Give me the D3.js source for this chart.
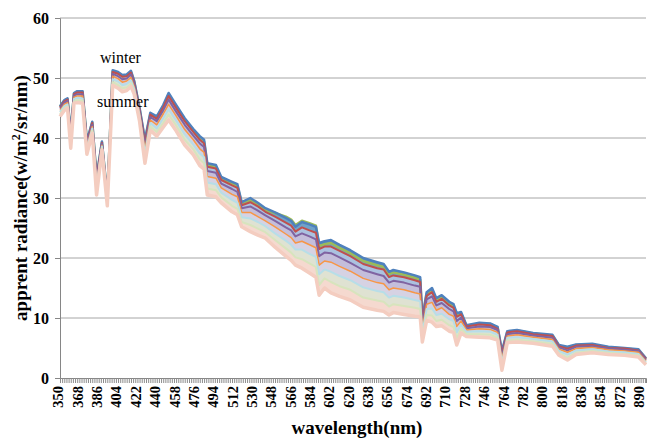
<!DOCTYPE html>
<html>
<head>
<meta charset="utf-8">
<script src="https://cdn.jsdelivr.net/npm/d3@7"></script>
<style>
  body { margin: 0; background: #fff; }
  svg { display: block; font-family: "Liberation Serif", "Times New Roman", serif; }
</style>
</head>
<body>
<script>
const wavelengths = [350, 354, 357, 360, 363, 366, 371, 375, 380, 384, 389, 394, 399, 404, 408, 412, 416, 419, 424, 429,
  434, 440, 446, 451, 458, 466, 474, 480, 484, 487, 495, 500, 510, 515, 519, 527, 534, 541, 550, 560,
  565, 569, 575, 582, 588, 591, 596, 602, 610, 620, 632, 645, 651, 656, 660, 670, 680, 685, 687, 691,
  696, 700, 705, 712, 716, 719, 723, 728, 740, 750, 757, 761, 766, 775, 790, 808, 814, 822, 830, 845,
  860, 875, 888, 895];

// winter (top)
const ser1 = [45.3, 46.3, 46.6, 40.8, 47.5, 47.8, 47.8, 39.5, 42.7, 33.5, 39.4, 30.2, 51.3, 51.0, 50.5, 50.6, 51.2, 49.5, 45.0, 39.7,
  44.2, 43.6, 45.5, 47.5, 45.5, 43.3, 41.5, 40.3, 39.7, 35.8, 35.5, 33.5, 32.7, 32.3, 29.3, 30.0, 29.2, 28.3, 27.6, 26.7,
  26.2, 25.2, 26.0, 25.6, 25.2, 22.5, 22.8, 23.0, 22.2, 21.3, 20.0, 19.3, 19.0, 17.7, 18.0, 17.6, 17.1, 16.8, 10.0, 14.3,
  15.0, 13.3, 13.8, 12.7, 12.3, 10.8, 11.0, 8.8, 9.2, 9.1, 8.5, 4.5, 7.8, 8.0, 7.5, 7.2, 5.5, 5.2, 5.6, 5.7,
  5.2, 5.0, 4.8, 3.3];
const ser2 = [45.2, 46.2, 46.5, 40.7, 47.4, 47.7, 47.7, 39.4, 42.6, 33.3, 39.3, 30.1, 51.1, 50.8, 50.3, 50.4, 51.0, 49.4, 44.9, 39.5,
  44.0, 43.4, 45.3, 47.2, 45.2, 43.0, 41.2, 40.0, 39.4, 35.5, 35.2, 33.2, 32.4, 32.0, 29.1, 29.7, 28.9, 28.0, 27.5, 26.9,
  26.4, 25.5, 26.2, 25.8, 25.4, 22.0, 22.3, 22.5, 21.7, 20.8, 19.5, 18.8, 18.5, 17.3, 17.6, 17.2, 16.7, 16.4, 9.8, 14.0,
  14.7, 13.0, 13.5, 12.4, 12.0, 10.5, 10.8, 8.7, 9.1, 9.0, 8.4, 4.3, 7.7, 7.9, 7.4, 7.1, 5.4, 5.1, 5.5, 5.6,
  5.1, 4.9, 4.7, 3.2];
const ser3 = [45.1, 46.1, 46.4, 40.5, 47.3, 47.6, 47.6, 39.2, 42.5, 33.1, 39.2, 30.0, 51.0, 50.7, 50.2, 50.3, 50.9, 49.2, 44.7, 39.2,
  43.9, 43.2, 45.1, 47.0, 45.0, 42.8, 41.0, 39.7, 39.1, 35.2, 34.9, 33.0, 32.1, 31.7, 28.8, 29.3, 28.6, 27.7, 26.9, 25.9,
  25.4, 24.4, 25.1, 24.6, 24.2, 21.5, 21.9, 21.9, 21.2, 20.3, 19.0, 18.3, 18.1, 16.8, 17.1, 16.8, 16.3, 16.0, 9.5, 13.7,
  14.3, 12.7, 13.2, 12.1, 11.7, 10.2, 10.6, 8.6, 8.9, 8.8, 8.2, 4.1, 7.6, 7.8, 7.3, 7.0, 5.3, 4.9, 5.4, 5.5,
  5.0, 4.9, 4.6, 3.2];
const ser4 = [44.9, 45.9, 46.2, 40.2, 47.1, 47.3, 47.3, 39.0, 42.2, 32.8, 39.1, 29.8, 50.7, 50.3, 49.8, 49.9, 50.6, 49.0, 44.5, 38.7,
  43.5, 42.8, 44.6, 46.4, 44.4, 42.2, 40.4, 39.1, 38.5, 34.5, 34.2, 32.4, 31.5, 31.0, 28.3, 28.6, 27.9, 27.1, 26.2, 25.1,
  24.6, 23.6, 24.1, 23.6, 23.1, 20.3, 20.9, 20.8, 20.1, 19.2, 18.0, 17.3, 17.0, 15.9, 16.2, 15.9, 15.4, 15.2, 9.0, 13.1,
  13.6, 12.1, 12.5, 11.5, 11.1, 9.5, 10.1, 8.3, 8.6, 8.5, 8.0, 3.7, 7.3, 7.5, 7.1, 6.7, 5.1, 4.6, 5.2, 5.3,
  4.9, 4.7, 4.5, 3.0];
const ser5 = [44.6, 45.6, 45.9, 39.8, 46.8, 47.0, 47.0, 38.6, 41.9, 32.2, 38.8, 29.6, 50.3, 49.9, 49.3, 49.5, 50.1, 48.6, 44.1, 38.1,
  43.0, 42.2, 44.0, 45.6, 43.7, 41.4, 39.7, 38.2, 37.6, 33.6, 33.3, 31.7, 30.6, 30.2, 27.6, 27.6, 26.9, 26.2, 25.2, 24.0,
  23.4, 22.5, 22.8, 22.2, 21.7, 18.8, 19.5, 19.3, 18.6, 17.8, 16.6, 15.9, 15.7, 14.7, 15.0, 14.7, 14.2, 14.0, 8.3, 12.3,
  12.6, 11.3, 11.7, 10.6, 10.3, 8.6, 9.5, 8.0, 8.2, 8.1, 7.6, 3.2, 7.0, 7.2, 6.8, 6.4, 4.8, 4.3, 4.9, 5.1,
  4.7, 4.5, 4.3, 2.8];
const ser6 = [44.3, 45.3, 45.6, 39.3, 46.5, 46.7, 46.6, 38.2, 41.6, 31.7, 38.6, 29.3, 49.8, 49.4, 48.8, 49.0, 49.6, 48.2, 43.7, 37.4,
  42.5, 41.6, 43.3, 44.8, 42.9, 40.6, 38.9, 37.4, 36.8, 32.6, 32.3, 30.9, 29.7, 29.2, 26.8, 26.6, 26.0, 25.3, 24.1, 22.9,
  22.2, 21.4, 21.4, 20.7, 20.2, 17.3, 18.1, 17.7, 17.0, 16.3, 15.1, 14.5, 14.3, 13.4, 13.7, 13.4, 13.0, 12.8, 7.6, 11.5,
  11.6, 10.5, 10.7, 9.8, 9.5, 7.6, 8.9, 7.7, 7.8, 7.7, 7.2, 2.6, 6.7, 6.8, 6.5, 6.1, 4.5, 3.9, 4.6, 4.8,
  4.4, 4.3, 4.0, 2.6];
const ser7 = [44.0, 45.0, 45.3, 38.8, 46.1, 46.3, 46.2, 37.7, 41.2, 31.1, 38.3, 29.0, 49.3, 48.8, 48.3, 48.4, 49.1, 47.7, 43.2, 36.6,
  41.9, 41.0, 42.5, 43.9, 42.1, 39.7, 38.1, 36.4, 35.8, 31.6, 31.3, 30.1, 28.7, 28.2, 26.0, 25.5, 24.9, 24.3, 23.0, 21.6,
  20.9, 20.1, 19.8, 19.1, 18.5, 15.5, 16.6, 16.0, 15.3, 14.7, 13.4, 12.9, 12.7, 11.9, 12.3, 12.0, 11.7, 11.5, 6.8, 10.5,
  10.4, 9.5, 9.7, 8.8, 8.5, 6.6, 8.2, 7.3, 7.3, 7.2, 6.7, 1.9, 6.3, 6.4, 6.1, 5.7, 4.1, 3.4, 4.2, 4.5,
  4.2, 4.0, 3.8, 2.4];
// summer (bottom)
const ser8 = [43.6, 44.6, 45.0, 38.3, 45.8, 45.9, 45.8, 37.3, 40.8, 30.5, 38.0, 28.7, 48.8, 48.3, 47.7, 47.9, 48.6, 47.3, 42.8, 35.8,
  41.3, 40.3, 41.8, 43.0, 41.2, 38.8, 37.2, 35.4, 34.8, 30.5, 30.2, 29.2, 27.7, 27.2, 25.2, 24.4, 23.8, 23.3, 21.8, 20.3,
  19.6, 18.8, 18.3, 17.5, 16.8, 13.8, 15.0, 14.2, 13.6, 13.0, 11.8, 11.3, 11.1, 10.5, 10.9, 10.6, 10.3, 10.2, 6.0, 9.6,
  9.3, 8.6, 8.7, 7.8, 7.6, 5.5, 7.5, 6.9, 6.8, 6.7, 6.3, 1.3, 5.9, 6.0, 5.8, 5.3, 3.8, 3.0, 3.9, 4.2,
  3.9, 3.8, 3.5, 2.2];

const seriesList = [ser1, ser2, ser3, ser4, ser5, ser6, ser7, ser8];
const lineColors = ["#4f81bd", "#9bbb59", "#c0504d", "#8064a2", "#f79646", "#b7dee8", "#d7e4bd", "#f4cdc0"];
const lineWidths = [2.5, 2.5, 2, 2, 1.5, 2, 2, 3.5];
const bandColors = ["#5a91c2", "#6fa3c9", "#abc2e0", "#c4bedb", "#d6d2e3", "#dfe2d2", "#f5d9cf"];
const drawOrder = [1, 0, 2, 3, 4, 5, 6, 7];

const yTicks = [0, 10, 20, 30, 40, 50, 60];
const xLabels = [350, 368, 386, 404, 422, 440, 458, 476, 494, 512, 530, 548, 566, 584, 602,
  620, 638, 656, 674, 692, 710, 728, 746, 764, 782, 800, 818, 836, 854, 872, 890];

const width = 647;
const height = 438;
const plotLeft = 60, plotRight = 646, plotTop = 18, plotBottom = 378;

const svg = d3.select("body")
  .append("svg")
  .attr("width", width)
  .attr("height", height);

const xScale = d3.scaleLinear().domain([350, 895]).range([plotLeft, plotRight]);
const yScale = d3.scaleLinear().domain([0, 60]).range([plotBottom, plotTop]);

// gridlines
svg.append("g")
  .selectAll("line")
  .data(yTicks.slice(1))
  .enter()
  .append("line")
  .attr("x1", plotLeft)
  .attr("x2", plotRight)
  .attr("y1", (d) => yScale(d))
  .attr("y2", (d) => yScale(d))
  .attr("stroke", "#a6a6a6")
  .attr("stroke-width", 1);

// y axis
const yAxis = d3.axisLeft(yScale).tickValues(yTicks).tickSize(5).tickPadding(6);
const gy = svg.append("g")
  .attr("transform", `translate(${plotLeft}, 0)`)
  .call(yAxis);
gy.select(".domain").attr("stroke", "#868686");
gy.selectAll(".tick line").attr("stroke", "#868686");
gy.selectAll(".tick text")
  .style("font-size", "16px")
  .style("font-weight", "bold")
  .style("font-family", "Liberation Serif")
  .attr("fill", "#000");

// spectra: filled bands between neighbouring series, then the lines
const pts = (arr) => wavelengths.map((w, i) => [w, arr[i]]);

for (let k = 0; k < seriesList.length - 1; k++) {
  const upper = seriesList[k];
  const lower = seriesList[k + 1];
  const area = d3.area()
    .x((d, i) => xScale(wavelengths[i]))
    .y1((d, i) => yScale(upper[i]))
    .y0((d, i) => yScale(lower[i]));
  svg.append("path")
    .datum(wavelengths)
    .attr("d", area)
    .attr("fill", bandColors[k]);
}

const line = d3.line()
  .x((d) => xScale(d[0]))
  .y((d) => yScale(d[1]));

drawOrder.forEach((k) => {
  svg.append("path")
    .datum(pts(seriesList[k]))
    .attr("d", line)
    .attr("fill", "none")
    .attr("stroke", lineColors[k])
    .attr("stroke-width", lineWidths[k])
    .attr("stroke-linejoin", "round");
});

// x axis (category style: small tick for every 2 nm, label every 18 nm)
const xAxis = d3.axisBottom(xScale)
  .tickValues(d3.range(350, 896, 2))
  .tickSize(5)
  .tickFormat((d) => (xLabels.includes(d) ? d : ""));
const gx = svg.append("g")
  .attr("transform", `translate(0, ${plotBottom})`)
  .call(xAxis);
gx.select(".domain").attr("stroke", "#868686");
gx.selectAll(".tick line").attr("stroke", "#8c8c8c");
gx.selectAll(".tick text")
  .attr("transform", "rotate(-90)")
  .attr("text-anchor", "end")
  .attr("x", -8)
  .attr("y", 0)
  .attr("dy", "0.2em")
  .style("font-size", "14.5px")
  .style("font-weight", "bold")
  .style("font-family", "Liberation Serif")
  .attr("fill", "#000");

// titles
svg.append("text")
  .attr("x", 357)
  .attr("y", 434)
  .attr("text-anchor", "middle")
  .style("font-size", "19px")
  .style("font-weight", "bold")
  .text("wavelength(nm)");

const yTitle = svg.append("text")
  .attr("transform", "translate(27, 198) rotate(-90)")
  .attr("text-anchor", "middle")
  .style("font-size", "19px")
  .style("font-weight", "bold");
yTitle.append("tspan").text("apprent radiance(w/m");
yTitle.append("tspan").attr("dy", -7).style("font-size", "12px").text("2");
yTitle.append("tspan").attr("dy", 7).text("/sr/nm)");

// season labels
svg.append("text")
  .attr("x", 100)
  .attr("y", 63)
  .style("font-size", "16px")
  .text("winter");
svg.append("text")
  .attr("x", 97)
  .attr("y", 107)
  .style("font-size", "16px")
  .text("summer");
</script>
</body>
</html>
